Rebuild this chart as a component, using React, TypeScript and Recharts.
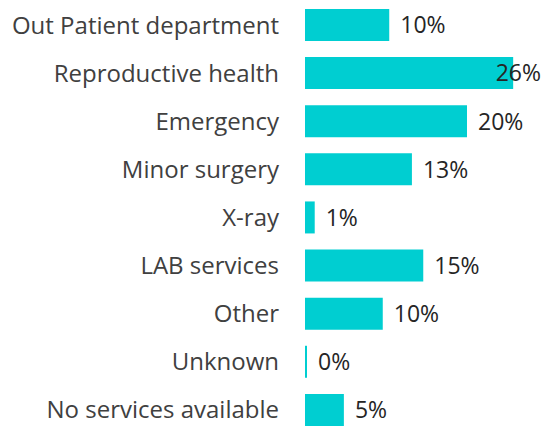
import { BarChart, Bar, XAxis, YAxis, LabelList } from "recharts";

const categories = [
  "Out Patient department",
  "Reproductive health",
  "Emergency",
  "Minor surgery",
  "X-ray",
  "LAB services",
  "Other",
  "Unknown",
  "No services available",
];
const shares = [10.4, 25.7, 20.0, 13.2, 1.2, 14.6, 9.6, 0.25, 4.8];
const labels = ["10%", "26%", "20%", "13%", "1%", "15%", "10%", "0%", "5%"];

const data = categories.map((name, i) => ({ name, value: shares[i], label: labels[i] }));

const FONT = "'Open Sans', 'Noto Sans', sans-serif";
const CHART_RIGHT = 541;

// keeps the label inside the plot when the bar is too long
const ValueLabel = (props: any) => {
  const { x, y, width, height, value } = props;
  const end = x + width;
  const approx = String(value).length * 15;
  const fits = end + 11 + approx <= CHART_RIGHT;
  return (
    <text
      x={fits ? end + 11 : CHART_RIGHT}
      y={y + height / 2}
      dy="0.36em"
      textAnchor={fits ? "start" : "end"}
      fontSize={23}
      fontFamily={FONT}
      fill="#252525"
    >
      {value}
    </text>
  );
};

export default function App() {
  return (
    <div
      style={{
        position: "absolute",
        left: 0,
        top: 0,
        width: 548,
        height: 427,
        overflow: "hidden",
        background: "#fff",
      }}
    >
      <BarChart
        width={548}
        height={434}
        data={data}
        layout="vertical"
        margin={{ top: 1, right: 0, bottom: 0, left: 0 }}
        barCategoryGap={16}
      >
        <XAxis type="number" domain={[0, 30]} hide />
        <YAxis
          type="category"
          dataKey="name"
          width={305}
          axisLine={false}
          tickLine={false}
          tickSize={0}
          tickMargin={26}
          interval={0}
          tick={{ fontSize: 24, fontFamily: FONT, fill: "#404040" }}
        />
        <Bar dataKey="value" fill="#00CED1" barSize={32} isAnimationActive={false}>
          <LabelList dataKey="label" content={<ValueLabel />} />
        </Bar>
      </BarChart>
    </div>
  );
}
